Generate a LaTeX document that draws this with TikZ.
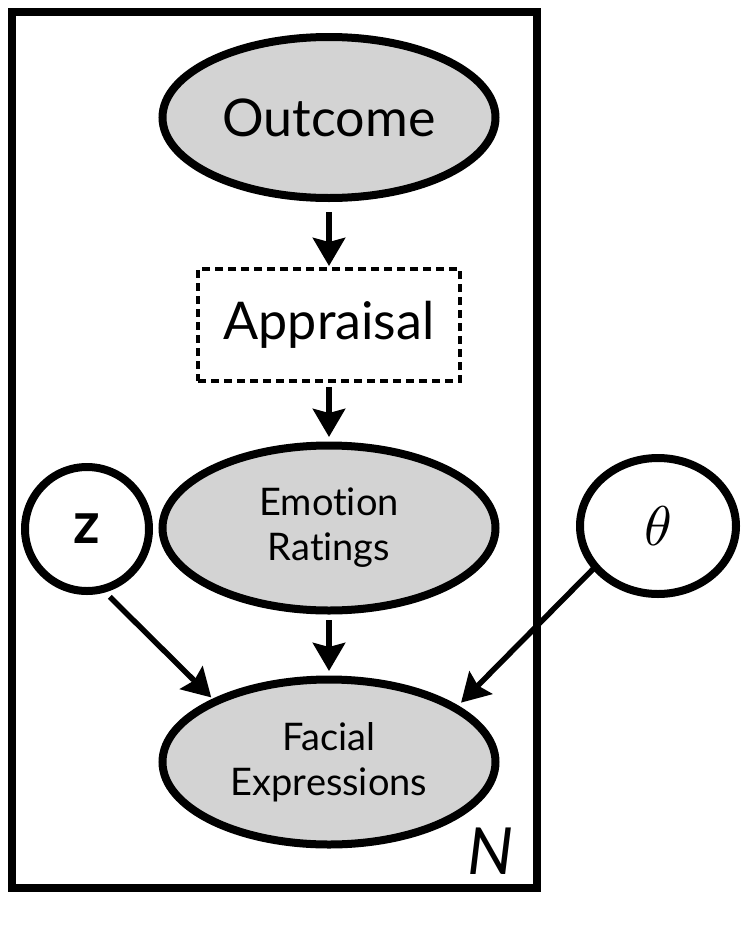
\documentclass[tikz,border=0pt]{standalone}
\usepackage{fontspec}
\usepackage{graphicx}
\setmainfont{Lato}[Ligatures=NoCommon]
\usetikzlibrary{shapes.geometric,arrows.meta}
\definecolor{obsgray}{RGB}{211,211,211}
\begin{document}
\begin{tikzpicture}[x=1pt,y=-1pt,
  obs/.style={ellipse,draw,line width=8pt,fill=obsgray,inner sep=0pt,outer sep=0pt,
    minimum width=333pt,minimum height=165pt,align=center},
  latent/.style={draw,line width=8pt,fill=white,inner sep=0pt,outer sep=0pt},
  dashbox/.style={draw,line width=4.5pt,dash pattern=on 8pt off 5pt,inner sep=0pt,outer sep=0pt,
    minimum width=262pt,minimum height=112pt},
  arr/.style={line width=6pt,-{Stealth[length=28pt,width=32pt,inset=4pt]}},
  bigtext/.style={font=\fontsize{52}{60}\selectfont},
  smalltext/.style={font=\fontsize{38}{45}\selectfont}
]
\useasboundingbox (0,0) rectangle (750,929);
\draw[line width=8pt] (12,12) rectangle (537,888);
\node[obs,bigtext,minimum height=161pt] (out) at (329,117.5) {\raisebox{-5pt}{Outcome}};
\node[dashbox,bigtext] (app) at (329,325) {Appraisal};
\node[obs,smalltext] (er) at (329,528) {Emotion\\Ratings};
\node[obs,smalltext] (fe) at (329,762) {Facial\\Expressions};
\node[latent,circle,minimum size=124pt,font=\fontsize{58}{64}\selectfont\bfseries] (z) at (87,529) {\raisebox{-7pt}{z}};
\node[latent,ellipse,minimum width=156pt,minimum height=136pt] (th) at (658,526) {\scalebox{5.6}{$\theta$}};
\node[font=\fontsize{65}{70}\selectfont\itshape,inner sep=0pt] (N) at (491,851.5) {N};
\draw[arr,shorten <=14pt,shorten >=3pt] (out.south) -- (app.north);
\draw[arr,shorten <=6pt,shorten >=8.5pt] (app.south) -- (er.north);
\draw[arr,shorten <=9.5pt,shorten >=8.5pt] (er.south) -- (fe.north);
\draw[arr,line width=5.5pt,shorten <=11pt,shorten >=6pt] (z.-76) -- (fe.152);
\draw[arr,line width=5.5pt,shorten <=1pt,shorten >=8pt] (th.213.7) -- (fe.23.8);
\end{tikzpicture}
\end{document}
